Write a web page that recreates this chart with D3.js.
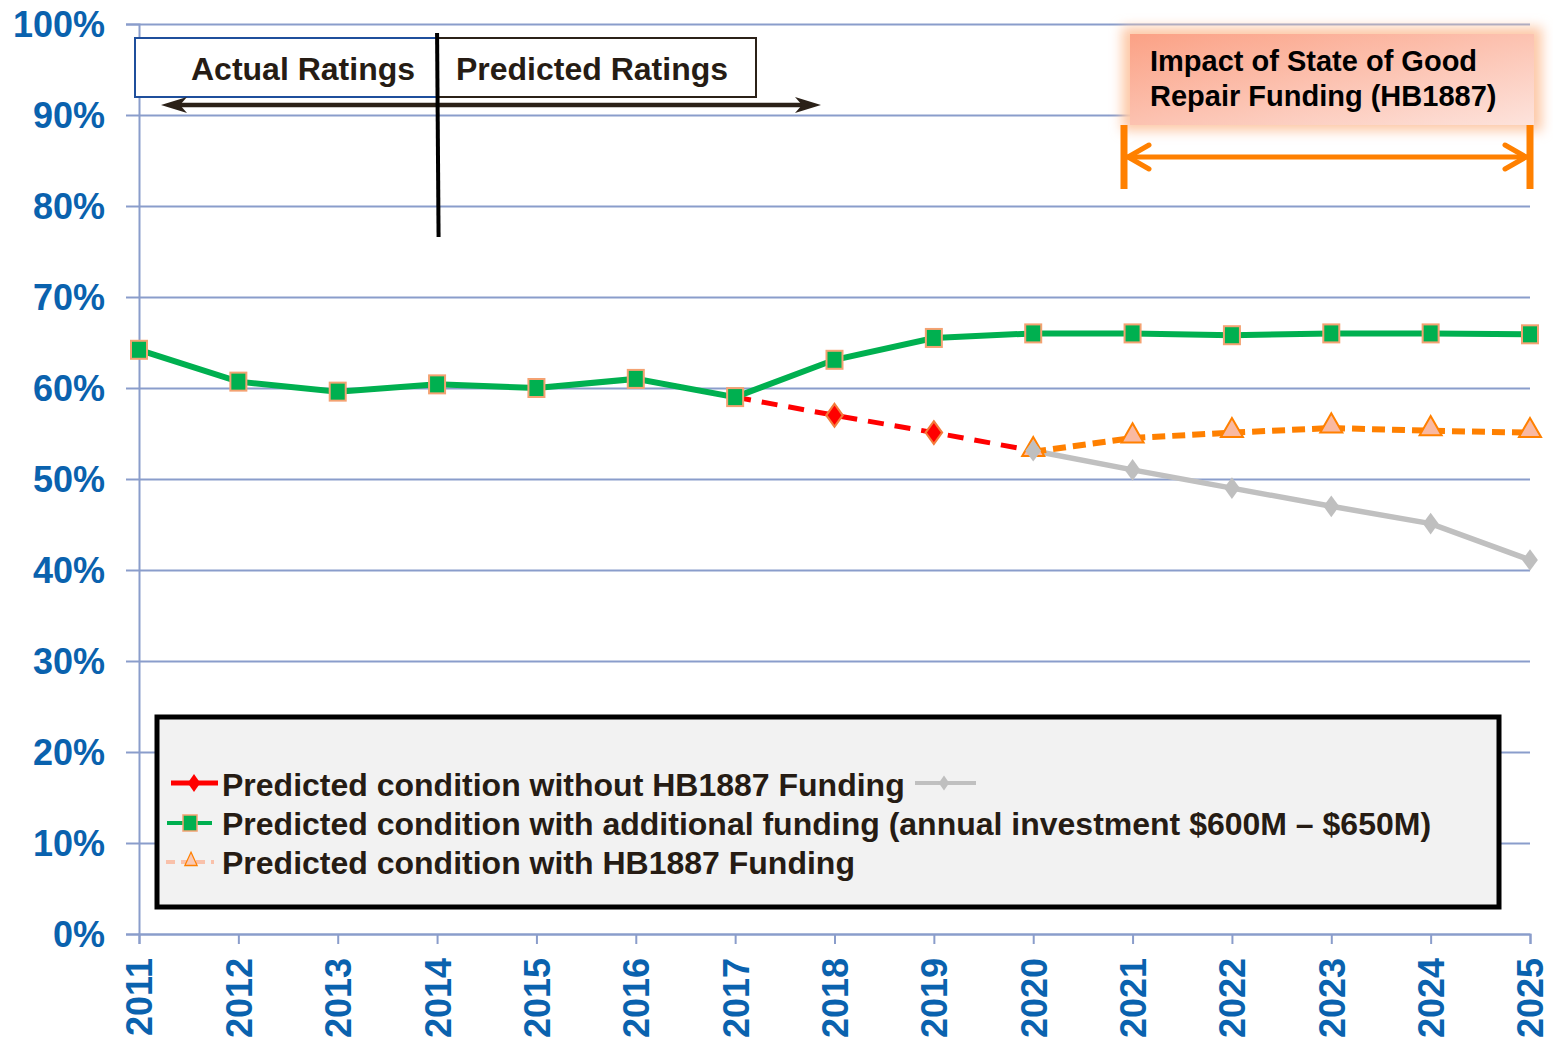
<!DOCTYPE html>
<html><head><meta charset="utf-8">
<script src="https://cdn.jsdelivr.net/npm/d3@7"></script>
<style>
body{margin:0;background:#fff;}
svg{display:block;}
text{font-family:"Liberation Sans",Arial,sans-serif;font-weight:bold;}
</style></head>
<body><svg id="c" width="1553" height="1043"></svg>
<script>
const years = [2011,2012,2013,2014,2015,2016,2017,2018,2019,2020,2021,2022,2023,2024,2025];
const yTicks = [0,10,20,30,40,50,60,70,80,90,100];
// series values (%)
const greenYears = years;
const greenVals = [64.2,60.7,59.6,60.4,60.0,61.0,59.0,63.1,65.5,66.0,66.0,65.8,66.0,66.0,65.9];
const redYears = [2017,2018,2019,2020];
const redVals = [59.0,57.0,55.1,53.1];
const grayYears = [2020,2021,2022,2023,2024,2025];
const grayVals = [53.1,51.0,49.0,47.0,45.1,41.1];
const orangeYears = [2020,2021,2022,2023,2024,2025];
const orangeVals = [53.0,54.5,55.1,55.6,55.3,55.1];
const legendLabels = [
  "Predicted condition without HB1887 Funding",
  "Predicted condition with additional funding (annual investment $600M \u2013 $650M)",
  "Predicted condition with HB1887 Funding"
];
const boxLabels = ["Actual Ratings","Predicted Ratings"];
const impactLines = ["Impact of State of Good","Repair Funding (HB1887)"];

const svg = d3.select("#c");
const X0=139, X1=1530, Y0=934, Y1=24;
const x = d3.scaleLinear().domain([2011,2025]).range([X0,X1]);
const y = d3.scaleLinear().domain([0,100]).range([Y0,Y1]);
const axisBlue = "#0a62ae", gridC = "#8a9dcb", textDark = "#261c14";

const defs = svg.append("defs");
const grad = defs.append("linearGradient").attr("id","og").attr("x1","0").attr("y1","0").attr("x2","1").attr("y2","1");
grad.append("stop").attr("offset","0").attr("stop-color","#fba185");
grad.append("stop").attr("offset","1").attr("stop-color","#fde3dc");
const blur = defs.append("filter").attr("id","glow").attr("x","-20%").attr("y","-30%").attr("width","140%").attr("height","160%");
blur.append("feGaussianBlur").attr("stdDeviation","6");

// gridlines
const grid = svg.append("g").attr("transform",`translate(${X0},0)`)
  .call(d3.axisLeft(y).tickValues(yTicks).tickSize(-(X1-X0)).tickFormat(""));
grid.select(".domain").remove();
grid.selectAll("line").attr("stroke",gridC).attr("stroke-width",2);

// y axis
const ya = svg.append("g").attr("transform",`translate(${X0},0)`)
  .call(d3.axisLeft(y).tickValues(yTicks).tickSize(13).tickPadding(21).tickFormat(d=>d+"%"));
ya.select(".domain").attr("stroke",gridC).attr("stroke-width",2);
ya.selectAll("line").attr("stroke",gridC).attr("stroke-width",2);
ya.selectAll("text").attr("fill",axisBlue).style("font-size","36px").attr("dy","0.36em");

// x axis
const xa = svg.append("g").attr("transform",`translate(0,${Y0})`)
  .call(d3.axisBottom(x).tickValues(years).tickSize(10).tickFormat(d3.format("d")));
xa.select(".domain").attr("stroke",gridC).attr("stroke-width",2);
xa.selectAll("line").attr("stroke",gridC).attr("stroke-width",2);
xa.selectAll("text").attr("fill",axisBlue).style("font-size","36px")
  .attr("transform","rotate(-90)").attr("x",-24).attr("y",0).attr("dy","0.36em").style("text-anchor","end");

// top-left annotation boxes
svg.append("rect").attr("x",135).attr("y",38).attr("width",x(2014)-135).attr("height",59)
  .attr("fill","#fff").attr("stroke","#1f4f9c").attr("stroke-width",2);
svg.append("rect").attr("x",x(2014)).attr("y",38).attr("width",756-x(2014)).attr("height",59)
  .attr("fill","#fff").attr("stroke","#2b2118").attr("stroke-width",2);
svg.append("text").attr("x",303).attr("y",80).attr("text-anchor","middle").attr("fill",textDark)
  .style("font-size","32px").text(boxLabels[0]);
svg.append("text").attr("x",592).attr("y",80).attr("text-anchor","middle").attr("fill",textDark)
  .style("font-size","32px").text(boxLabels[1]);
const ay = 105, ax0 = 161, ax1 = 821;
svg.append("line").attr("x1",ax0+10).attr("x2",ax1-10).attr("y1",ay).attr("y2",ay)
  .attr("stroke","#2b2118").attr("stroke-width",4.5);
svg.append("path").attr("d",`M${ax0},${ay} L${ax0+26},${ay-8} L${ax0+19},${ay} L${ax0+26},${ay+8} Z M${ax1},${ay} L${ax1-26},${ay-8} L${ax1-19},${ay} L${ax1-26},${ay+8} Z`)
  .attr("fill","#2b2118");
svg.append("line").attr("x1",x(2014)).attr("x2",x(2014)+1.5).attr("y1",33).attr("y2",237)
  .attr("stroke","#000").attr("stroke-width",4);

// impact box
svg.append("rect").attr("x",1122).attr("y",27).attr("width",420).attr("height",104)
  .attr("fill","#fdc9a8").attr("filter","url(#glow)");
svg.append("rect").attr("x",1130).attr("y",34).attr("width",404).attr("height",91).attr("fill","url(#og)");
impactLines.forEach((t,i)=>svg.append("text").attr("x",1150).attr("y",71+i*35).attr("fill","#000")
  .style("font-size","29px").text(t));
const oc = "#ff8000";
const bx0 = 1124, bx1 = x(2025);
svg.append("line").attr("x1",bx0).attr("x2",bx0).attr("y1",125).attr("y2",189).attr("stroke",oc).attr("stroke-width",7);
svg.append("line").attr("x1",bx1).attr("x2",bx1).attr("y1",125).attr("y2",189).attr("stroke",oc).attr("stroke-width",7);
svg.append("line").attr("x1",bx0).attr("x2",bx1).attr("y1",157).attr("y2",157).attr("stroke",oc).attr("stroke-width",5);
svg.append("path").attr("d",`M${bx0+25},145 L${bx0+4},157 L${bx0+25},169 M${bx1-25},145 L${bx1-4},157 L${bx1-25},169`)
  .attr("fill","none").attr("stroke",oc).attr("stroke-width",5).attr("stroke-linecap","round");

// lines
const line = d3.line().x(d=>x(d[0])).y(d=>y(d[1]));
const zip = (a,b)=>a.map((v,i)=>[v,b[i]]);
const gray = zip(grayYears,grayVals), red = zip(redYears,redVals), orange = zip(orangeYears,orangeVals), green = zip(greenYears,greenVals);

svg.append("path").attr("d",line(gray)).attr("fill","none").attr("stroke","#c0c0c0").attr("stroke-width",5.5);
svg.append("path").attr("d",line(orange)).attr("fill","none").attr("stroke",oc).attr("stroke-width",6).attr("stroke-dasharray","13,7");
svg.append("path").attr("d",line(red)).attr("fill","none").attr("stroke","#ff0000").attr("stroke-width",5).attr("stroke-dasharray","16,11");
svg.append("path").attr("d",line(green)).attr("fill","none").attr("stroke","#00b050").attr("stroke-width",6);

const diamond = d3.symbol().type(d3.symbolDiamond).size(150);
const tri = d3.symbol().type(d3.symbolTriangle).size(210);
svg.append("g").selectAll("path").data(orange).join("path").attr("d",tri)
  .attr("transform",d=>`translate(${x(d[0])},${y(d[1])-2})`).attr("fill","#f9b9a2").attr("stroke",oc).attr("stroke-width",2);
svg.append("g").selectAll("path").data(gray).join("path").attr("d",diamond)
  .attr("transform",d=>`translate(${x(d[0])},${y(d[1])}) scale(1.2,0.95)`).attr("fill","#bfbfbf");
svg.append("g").selectAll("path").data(red.slice(1,3)).join("path").attr("d",diamond)
  .attr("transform",d=>`translate(${x(d[0])},${y(d[1])}) scale(1.25,1)`).attr("fill","#ff0000").attr("stroke","#f47a3a").attr("stroke-width",1.8);
svg.append("g").selectAll("rect").data(green).join("rect")
  .attr("x",d=>x(d[0])-8).attr("y",d=>y(d[1])-9).attr("width",16).attr("height",18)
  .attr("fill","#00b050").attr("stroke","#f4a272").attr("stroke-width",2);

// legend
svg.append("rect").attr("x",157).attr("y",717).attr("width",1342).attr("height",190)
  .attr("fill","#f2f2f2").attr("stroke","#000").attr("stroke-width",5);
const lg = svg.append("g");
const rowY = [784,823,862];
// row 1 red
lg.append("line").attr("x1",171).attr("x2",218).attr("y1",rowY[0]-1).attr("y2",rowY[0]-1).attr("stroke","#ff0000").attr("stroke-width",5);
lg.append("path").attr("d",diamond).attr("transform",`translate(194,${rowY[0]-1}) scale(0.95,0.8)`).attr("fill","#ff0000");
// row 2 green
lg.append("line").attr("x1",167).attr("x2",212).attr("y1",rowY[1]).attr("y2",rowY[1]).attr("stroke","#00b050").attr("stroke-width",4);
lg.append("rect").attr("x",183).attr("y",rowY[1]-8).attr("width",14).attr("height",16).attr("fill","#00b050").attr("stroke","#f4a272").attr("stroke-width",1.5);
// row 3 orange light
lg.append("line").attr("x1",166).attr("x2",214).attr("y1",rowY[2]).attr("y2",rowY[2]).attr("stroke","#f9c1aa").attr("stroke-width",4).attr("stroke-dasharray","9,6");
lg.append("path").attr("d",d3.symbol().type(d3.symbolTriangle).size(100)).attr("transform",`translate(191,${rowY[2]-1}) scale(0.8,1)`)
  .attr("fill","#f9c9b5").attr("stroke",oc).attr("stroke-width",1.5);
legendLabels.forEach((t,i)=>lg.append("text").attr("x",222).attr("y",rowY[i]).attr("dy","0.36em")
  .attr("fill",textDark).style("font-size","32px").text(t));
// gray symbol after row 1
lg.append("line").attr("x1",915).attr("x2",976).attr("y1",rowY[0]-1).attr("y2",rowY[0]-1).attr("stroke","#c0c0c0").attr("stroke-width",4);
lg.append("path").attr("d",diamond).attr("transform",`translate(944,${rowY[0]-1}) scale(0.8,0.65)`).attr("fill","#bfbfbf");
</script></body></html>
